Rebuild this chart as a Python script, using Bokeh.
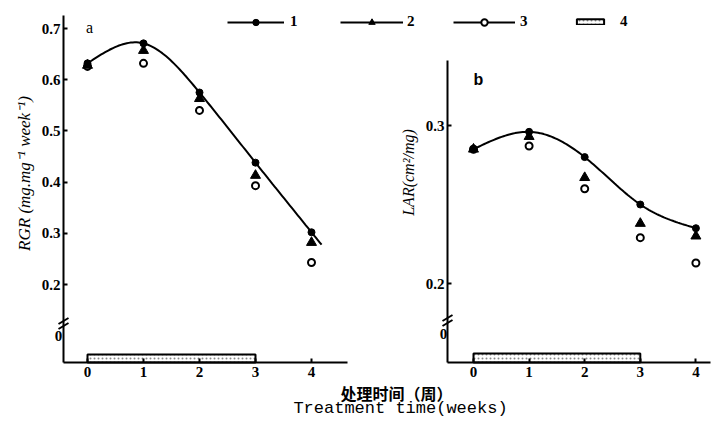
import numpy as np
from bokeh.plotting import figure
from bokeh.models import Range1d, Legend, LegendItem, Label, FixedTicker, LinearAxis
from bokeh.embed import file_html
from bokeh.resources import INLINE

# ---------------- data ----------------
weeks = [0, 1, 2, 3, 4]
rgr_1 = [0.632, 0.671, 0.575, 0.438, 0.302]
rgr_2 = [0.628, 0.657, 0.563, 0.413, 0.282]
rgr_3 = [0.626, 0.632, 0.540, 0.393, 0.243]
lar_1 = [0.285, 0.296, 0.280, 0.250, 0.235]
lar_2 = [0.285, 0.293, 0.267, 0.238, 0.230]
lar_3 = [0.285, 0.287, 0.260, 0.229, 0.213]
treat_period = [0, 3]
series_labels = ["1", "2", "3", "4"]
week_ticks = [0, 1, 2, 3, 4]
rgr_ticks = [0.2, 0.3, 0.4, 0.5, 0.6, 0.7]
lar_ticks = [0.2, 0.3]
rgr_label = "RGR (mg.mg\u207b\u00b9 week\u207b\u00b9)"
lar_label = "LAR(cm\u00b2/mg)"
xlabel_cn = "处理时间（周）"
xlabel_en = "Treatment time(weeks)"

SERIF = "Liberation Serif"

# ---------------- layout (page pixels) ----------------
W, H = 720, 420          # canvas = frame
L0, T0 = 0, 0            # page offset of the canvas
A_X0, A_DX = 87, 56.0    # panel a: pixel of week 0, px per week
A_YR, A_YV, A_DY = 28, 0.7, 512.0   # panel a: pixel of reference value, px per unit
B_X0, B_DX = 473, 55.6
B_YR, B_YV, B_DY = 125, 0.3, 1580.0


def ax(px):
    return (px - A_X0) / A_DX


def ay(py):
    return A_YV - (py - A_YR) / A_DY


def bx(px):
    return (px - B_X0) / B_DX


def by(py):
    return B_YV - (py - B_YR) / B_DY


def natural_spline(x, y, xs):
    x = np.asarray(x, float)
    y = np.asarray(y, float)
    n = len(x)
    h = np.diff(x)
    A = np.zeros((n, n))
    b = np.zeros(n)
    A[0, 0] = A[-1, -1] = 1
    for i in range(1, n - 1):
        A[i, i - 1] = h[i - 1]
        A[i, i] = 2 * (h[i - 1] + h[i])
        A[i, i + 1] = h[i]
        b[i] = 3 * ((y[i + 1] - y[i]) / h[i] - (y[i] - y[i - 1]) / h[i - 1])
    c = np.linalg.solve(A, b)
    bc = (y[1:] - y[:-1]) / h - h * (2 * c[:-1] + c[1:]) / 3
    d = (c[1:] - c[:-1]) / (3 * h)
    idx = np.clip(np.searchsorted(x, xs) - 1, 0, n - 2)
    dx = xs - x[idx]
    return y[idx] + bc[idx] * dx + c[idx] * dx ** 2 + d[idx] * dx ** 3


p = figure(width=W, height=H,
           x_range=Range1d(ax(L0), ax(L0 + W)), y_range=Range1d(ay(T0 + H), ay(T0)),
           output_backend="svg", toolbar_location=None, title=None,
           x_axis_type=None, y_axis_type=None, min_border=0)
p.extra_x_ranges = {"bx": Range1d(bx(L0), bx(L0 + W))}
p.extra_y_ranges = {"by": Range1d(by(T0 + H), by(T0))}
p.grid.visible = False
p.outline_line_color = None
p.background_fill_color = "white"
p.border_fill_color = "white"


def style_axis(a, standoff):
    a.axis_line_width = 2
    a.axis_line_color = "black"
    a.major_tick_line_width = 2
    a.major_tick_line_color = "black"
    a.major_tick_in = 4
    a.major_tick_out = 0
    a.minor_tick_line_color = None
    a.major_label_text_font = SERIF
    a.major_label_text_font_size = "15px"
    a.major_label_text_font_style = "bold"
    a.major_label_text_color = "black"
    a.major_label_standoff = standoff


# panel a axes
ya = LinearAxis(ticker=FixedTicker(ticks=rgr_ticks), fixed_location=ax(63),
                bounds=(ay(362), ay(15)))
xa = LinearAxis(ticker=FixedTicker(ticks=week_ticks), fixed_location=ay(362),
                bounds=(ax(63), ax(347)))
# panel b axes
yb = LinearAxis(x_range_name="bx", y_range_name="by", ticker=FixedTicker(ticks=lar_ticks),
                fixed_location=bx(447), bounds=(by(362), by(60)))
xb = LinearAxis(x_range_name="bx", y_range_name="by", ticker=FixedTicker(ticks=week_ticks),
                fixed_location=by(362), bounds=(bx(447), bx(710)))
for a, s in ((ya, 3), (yb, 3), (xa, 4), (xb, 4)):
    style_axis(a, s)
p.add_layout(ya, "left")
p.add_layout(yb, "left")
p.add_layout(xa, "below")
p.add_layout(xb, "below")

rng_b = dict(x_range_name="bx", y_range_name="by")


def add_series(s1, s2, s3, x0, x1, **kw):
    xs = np.linspace(x0, x1, 120)
    circ = p.scatter(weeks, s3, marker="circle", size=7, fill_color="white",
                     line_color="black", line_width=2, **kw)
    tri = p.scatter(weeks, s2, marker="triangle", size=10, fill_color="black",
                    line_color="black", **kw)
    curve = p.line(xs, natural_spline(weeks, s1, xs), line_color="black",
                   line_width=2, **kw)
    dots = p.scatter(weeks, s1, marker="circle", size=7, fill_color="black",
                     line_color="black", **kw)
    return curve, dots, tri, circ


def add_break(xc, yc, fx, fy, **kw):
    # two short slashes crossing an axis at pixel (xc, yc)
    x0 = [fx(xc - 5), fx(xc - 5)]
    x1 = [fx(xc + 5), fx(xc + 5)]
    y0 = [fy(yc + 3 - 2.5), fy(yc + 3 + 2.5)]
    y1 = [fy(yc - 3 - 2.5), fy(yc - 3 + 2.5)]
    p.segment(x0, y0, x1, y1, line_color="black", line_width=2, **kw)


def txt(x, y, t, size, font=SERIF, style="normal", angle=0.0, **kw):
    p.add_layout(Label(x=x, y=y, text=t, text_font=font, text_font_size=size,
                       text_font_style=style, text_align="center",
                       text_baseline="middle", angle=angle, text_color="black", **kw))


# treatment bars (series 4)
bar_a = p.quad(left=[treat_period[0]], right=[treat_period[1]], bottom=[ay(362)],
               top=[ay(354)], fill_color="white", line_color="black", line_width=2,
               hatch_pattern="dot", hatch_color="#888888", hatch_scale=4)
p.quad(left=[treat_period[0]], right=[treat_period[1]], bottom=[by(362)],
       top=[by(353)], fill_color="white", line_color="black", line_width=2,
       hatch_pattern="dot", hatch_color="#888888", hatch_scale=4, **rng_b)

curve_a, dots_a, tri_a, circ_a = add_series(rgr_1, rgr_2, rgr_3, 0.0, 4.18)
add_series(lar_1, lar_2, lar_3, -0.08, 4.02, **rng_b)

add_break(63, 323, ax, ay)
add_break(447, 320, bx, by, **rng_b)

# texts
txt(ax(58), ay(335), "0", "15px", style="bold")
txt(bx(443), by(333), "0", "15px", style="bold", **rng_b)
txt(ax(89), ay(27), "a", "16px")
txt(bx(478), by(79), "b", "16px", font="Liberation Sans", style="bold", **rng_b)
txt(ax(24), ay(173), rgr_label, "17px", style="italic", angle=np.pi / 2)
txt(bx(408), by(172), lar_label, "16px", style="italic", angle=np.pi / 2, **rng_b)
txt(ax(396), ay(392), xlabel_cn, "16px", font="Noto Sans CJK SC", style="bold")
txt(ax(400), ay(408), xlabel_en, "17px", font="Liberation Mono")

# legend line stubs (no data drawn) for series 2 and 3
nan = np.array([np.nan])
l2 = p.line(nan, nan, line_color="black", line_width=2)
l3 = p.line(nan, nan, line_color="black", line_width=2)


def add_legend(label, renderers, left_px, gw, gh, standoff):
    # legend whose row is vertically centred on page y = 22
    row_h = 16
    leg = Legend(items=[LegendItem(label=label, renderers=renderers)],
                 location=(left_px - L0, (T0 + H) - (22 + row_h / 2)),
                 orientation="horizontal", glyph_width=gw, glyph_height=gh,
                 label_height=row_h, label_width=6, label_standoff=standoff,
                 padding=0, margin=0, background_fill_alpha=0, border_line_alpha=0,
                 label_text_font=SERIF, label_text_font_size="15px",
                 label_text_font_style="bold", label_text_color="black")
    p.add_layout(leg)


add_legend(series_labels[0], [curve_a, dots_a], 227, 57, 16, 6)
add_legend(series_labels[1], [l2, tri_a], 340, 63, 16, 4)
add_legend(series_labels[2], [l3, circ_a], 453, 62, 16, 5)
add_legend(series_labels[3], [bar_a], 573, 34, 7, 13)

open("out.html", "w").write(file_html(p, INLINE))
